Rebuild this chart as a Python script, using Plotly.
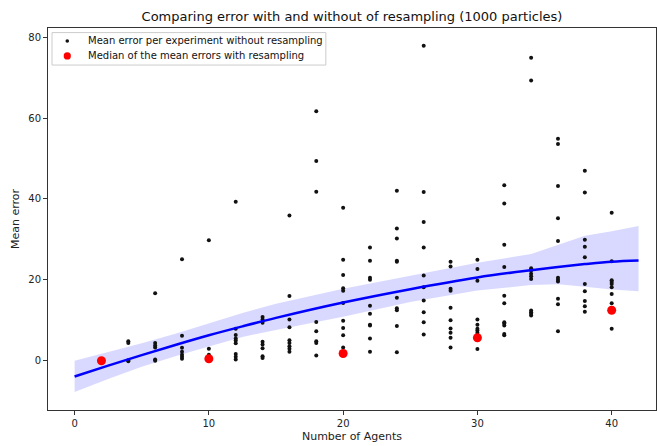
import plotly.graph_objects as go

# Mean error per experiment without resampling, grouped by number of agents
agents = [4, 6, 8, 10, 12, 14, 16, 18, 20, 22, 24, 26, 28, 30, 32, 34, 36, 38, 40]
errors = [
    [4.8, 4.4, 0.1, -0.1],
    [16.7, 4.4, 3.8, 3.3, 0.3, 0.0],
    [25.1, 6.2, 3.2, 2.2, 1.5, 1.0, 0.5],
    [29.8, 3.0, 1.5],
    [39.3, 7.9, 6.4, 5.5, 5.0, 4.3, 1.7, 1.0, 0.3],
    [10.8, 10.2, 9.4, 4.7, 4.0, 3.1, 1.1, 0.7],
    [35.9, 16.0, 10.2, 8.3, 5.1, 4.4, 3.6, 3.0, 2.2],
    [61.7, 49.4, 41.8, 9.6, 7.3, 4.8, 4.4, 1.3],
    [37.8, 25.0, 21.2, 17.9, 17.3, 14.3, 9.9, 8.1, 6.3, 3.3],
    [28.0, 24.7, 20.5, 20.0, 13.6, 11.6, 8.9, 8.7, 5.5, 2.2],
    [42.0, 32.7, 30.2, 24.7, 24.5, 15.6, 13.0, 12.5, 8.6, 2.1],
    [77.9, 41.7, 34.3, 28.0, 21.1, 18.2, 14.9, 12.0, 9.5, 6.5],
    [24.5, 23.3, 17.8, 17.3, 13.1, 10.0, 8.0, 6.9, 5.7, 3.3],
    [25.0, 22.7, 19.8, 10.2, 8.9, 7.9, 7.5, 6.9, 2.9],
    [43.4, 38.9, 28.7, 23.2, 16.1, 14.2, 9.5, 9.2, 8.7, 6.6, 6.3],
    [74.9, 69.3, 22.9, 22.3, 21.5, 20.9, 20.2, 12.4, 12.0, 11.6, 11.2],
    [54.9, 53.6, 43.2, 35.2, 29.6, 20.5, 20.0, 19.6, 15.3, 14.0, 7.3],
    [47.0, 41.6, 29.9, 28.2, 25.6, 19.0, 17.2, 14.8, 13.5, 12.1],
    [36.6, 24.6, 19.9, 19.5, 19.0, 18.2, 16.5, 14.2, 7.9],
]

# Median of the mean errors with resampling
median_agents = [2, 10, 20, 30, 40]
median_errors = [0.0, 0.5, 1.8, 5.7, 12.5]

# Polynomial trend of the non-resampled errors and its confidence band
fit_x = [0, 2.5, 5, 7.5, 10, 12.5, 15, 20, 25, 30, 34, 36, 38, 40, 42]
fit_y = [-3.9, -1.2, 1.4, 3.9, 6.3, 8.5, 10.6, 14.4, 17.7, 20.6, 22.4, 23.2, 23.9, 24.5, 24.8]
fit_upper = [0.0, 2.1, 4.3, 6.7, 9.2, 11.8, 14.1, 17.8, 21.0, 24.2, 26.4, 28.7, 30.9, 32.0, 33.3]
fit_lower = [-7.7, -4.5, -1.5, 1.1, 3.5, 5.9, 7.6, 10.9, 14.5, 17.4, 18.7, 18.9, 18.3, 17.6, 17.2]

legend_labels = [
    "Mean error per experiment without resampling",
    "Median of the mean errors with resampling",
]

scatter_x = [a for a, vals in zip(agents, errors) for _ in vals]
scatter_y = [v for vals in errors for v in vals]

fig = go.Figure()

fig.add_trace(go.Scatter(
    x=fit_x + fit_x[::-1], y=fit_upper + fit_lower[::-1],
    fill="toself", fillcolor="rgba(0,0,255,0.15)", line=dict(width=0),
    hoverinfo="skip", showlegend=False, mode="lines",
))

fig.add_trace(go.Scatter(
    x=scatter_x, y=scatter_y, mode="markers",
    marker=dict(color="#111111", size=4),
    name=legend_labels[0], showlegend=False,
))

fig.add_trace(go.Scatter(
    x=fit_x, y=fit_y, mode="lines", line=dict(color="#0000ff", width=2.5, shape="spline"),
    showlegend=False, hoverinfo="skip",
))

fig.add_trace(go.Scatter(
    x=median_agents, y=median_errors, mode="markers",
    marker=dict(color="#ff0000", size=9),
    name=legend_labels[1], showlegend=False,
))

axis_common = dict(
    showgrid=False, zeroline=False, showline=True, linecolor="#333333", linewidth=1,
    mirror=True, ticks="outside", ticklen=4, tickcolor="#333333",
    tickfont=dict(family="DejaVu Sans", size=10, color="#222222"),
)

# Compact legend box in the upper-left corner of the axes
legend_shapes = [
    dict(type="rect", xref="paper", yref="paper", x0=0.0066, x1=0.457, y0=0.903, y1=0.988,
         line=dict(color="#cccccc", width=1), fillcolor="rgba(255,255,255,0.85)", layer="above"),
    dict(type="circle", xref="paper", yref="paper", xsizemode="pixel", ysizemode="pixel",
         xanchor=0.0317, yanchor=0.966, x0=-1.8, x1=1.8, y0=-1.8, y1=1.8,
         fillcolor="#111111", line=dict(width=0), layer="above"),
    dict(type="circle", xref="paper", yref="paper", xsizemode="pixel", ysizemode="pixel",
         xanchor=0.0317, yanchor=0.927, x0=-3.6, x1=3.6, y0=-3.6, y1=3.6,
         fillcolor="#ff0000", line=dict(width=0), layer="above"),
]
legend_texts = [
    dict(text=label, xref="paper", yref="paper", x=0.0625, y=yy, xanchor="left",
         yanchor="middle", showarrow=False,
         font=dict(family="DejaVu Sans", size=10, color="#111111"))
    for label, yy in zip(legend_labels, [0.966, 0.927])
]

fig.update_layout(
    width=657, height=446,
    margin=dict(l=48, r=1, t=28, b=36),
    paper_bgcolor="white", plot_bgcolor="white",
    showlegend=False,
    title=dict(
        text="Comparing error with and without of resampling (1000 particles)",
        x=0.5, xanchor="center", xref="paper", y=0.962, yanchor="middle",
        font=dict(family="DejaVu Sans", size=13, color="#111111"),
    ),
    xaxis=dict(
        range=[-1.98, 43.3], tickvals=[0, 10, 20, 30, 40],
        title=dict(text="Number of Agents", standoff=4,
                   font=dict(family="DejaVu Sans", size=11, color="#222222")),
        **axis_common,
    ),
    yaxis=dict(
        range=[-12.17, 82.26], tickvals=[0, 20, 40, 60, 80],
        title=dict(text="Mean error", standoff=6,
                   font=dict(family="DejaVu Sans", size=11, color="#222222")),
        **axis_common,
    ),
    shapes=legend_shapes,
    annotations=legend_texts,
)

fig.write_html("out.html")
